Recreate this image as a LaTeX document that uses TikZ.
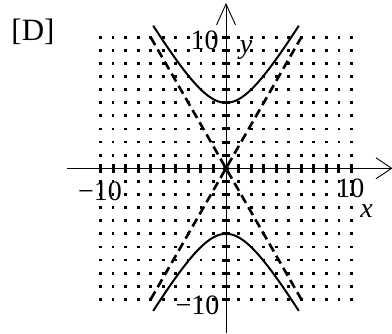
\documentclass[tikz,border=0pt]{standalone}
\usepackage{fontspec}
\setmainfont{Liberation Serif}
\usetikzlibrary{shapes.geometric}
\begin{document}
\begin{tikzpicture}[x=12.55pt,y=13.1pt,
  gdot/.style={rectangle,fill=black,inner sep=0pt,minimum size=2.8pt},
  xtick/.style={rectangle,fill=black,inner sep=0pt,minimum width=3pt,minimum height=8.5pt},
  ytick/.style={rectangle,fill=black,inner sep=0pt,minimum width=8.5pt,minimum height=3pt},
  lbl/.style={inner sep=0pt,font=\fontsize{28}{30}\selectfont},
  axisline/.style={line width=0.9pt},
  curve/.style={line width=2pt},
  asym/.style={line width=2.6pt,dash pattern=on 9pt off 5pt}]
\useasboundingbox (-18.008,-12.573) rectangle (13.227,12.847);
% grid dots
\foreach \i in {-10,...,10}{
  \foreach \j in {-10,...,10}{
    \ifnum\i=0\relax\else\ifnum\j=0\relax\else
      \node[gdot] at (\i,\j) {};
    \fi\fi
  }
}
% axes
\coordinate (xs) at (-12.67,0);
\coordinate (xe) at (13.2,0);
\coordinate (ys) at (0,-12.6);
\coordinate (ye) at (0,12.54);
\draw[axisline] (xs) -- (xe);
\draw[axisline] (ys) -- (ye);
\draw[axisline] (11.95,0.8) -- (xe) -- (11.95,-0.8);
\draw[axisline] (-0.757,10.94) -- (ye) -- (0.757,10.94);
% ticks
\foreach \i in {-10,...,-1,1,2,...,10}{
  \node[xtick] at (\i,0) {};
  \node[ytick] at (0,\i) {};
}
\node[star,star points=6,fill=black,inner sep=0pt,minimum size=7pt] (o) at (0,0) {};
% asymptotes
\draw[asym] (-6,-10) -- (6,10);
\draw[asym] (-6,10) -- (6,-10);
% hyperbola
\draw[curve,domain=-5.8:5.8,samples=80,smooth] plot (\x,{5*sqrt(1+\x*\x/9)});
\draw[curve,domain=-5.8:5.8,samples=80,smooth] plot (\x,{-5*sqrt(1+\x*\x/9)});
% labels
\node[lbl,font=\fontsize{31}{33}\selectfont] (tag) at (-15.38,10.40) {[D]};
\node[lbl] (ytop) at (-1.71,9.79) {10};
\node[lbl] (ylab) at (1.6,9.0) {\itshape y};
\node[lbl] (xright) at (9.9,-1.55) {10};
\node[lbl] (xlab) at (11.2,-3.25) {\itshape x};
\node[lbl] (xleft) at (-10.04,-1.73) {−10};
\node[lbl] (ybot) at (-2.27,-10.44) {−10};
\end{tikzpicture}
\end{document}
